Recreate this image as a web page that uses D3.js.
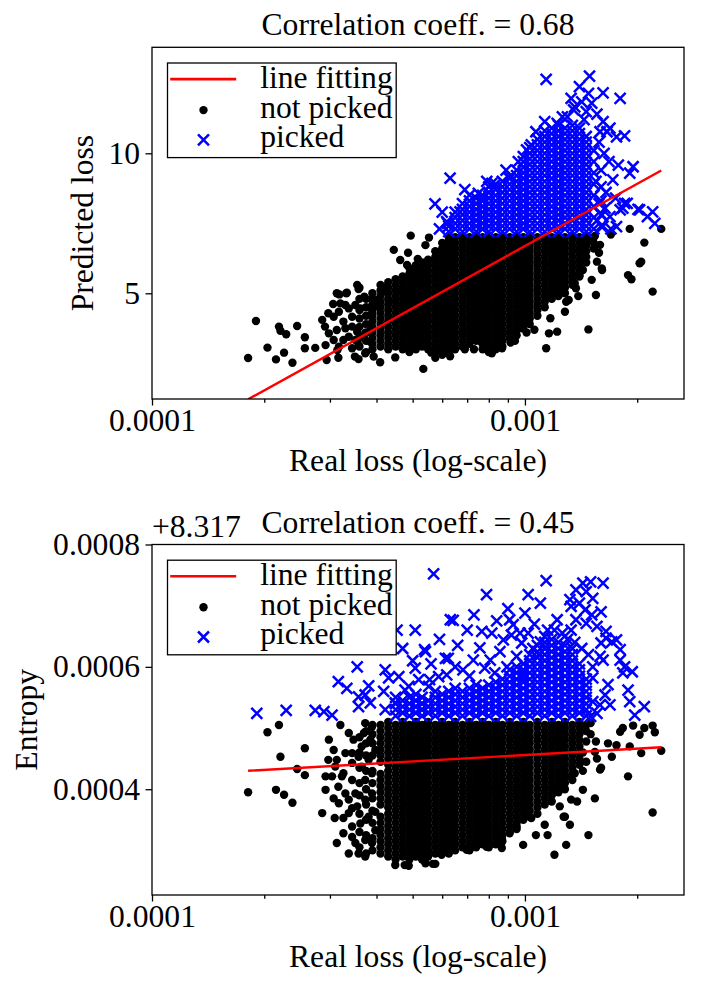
<!DOCTYPE html>
<html>
<head>
<meta charset="utf-8">
<script src="https://cdn.jsdelivr.net/npm/d3@7"></script>
<style>
  body { margin: 0; background: #fff; }
</style>
</head>
<body>
<svg id="chart" width="705" height="989"></svg>
<script>
// real loss is kept in units of 1e-4; entropy as offset from 8.317, in units of 1e-4
const lossTicks = [1, 10];
const lossTickLabels = ["0.0001", "0.001"];
const lossMinorTicks = [2, 3, 4, 5, 6, 7, 8, 9, 20];
const lossDomain = [1, 26.7];

const topYTicks = [5, 10];
const topYDomain = [1.225, 13.786];
const topTitle = "Correlation coeff. = 0.68";
const topYLabel = "Predicted loss";
const topFit = [-0.69, 7.38]; // intercept, slope per decade

const botYTicks = [4, 6, 8];
const botYTickLabels = ["0.0004", "0.0006", "0.0008"];
const botYDomain = [2.271, 8];
const botOffsetLabel = "+8.317";
const botTitle = "Correlation coeff. = 0.45";
const botYLabel = "Entropy";
const botFit = [4.212, 0.347];

const xLabel = "Real loss (log-scale)";
const legendLabels = ["line fitting", "not picked", "picked"];

// ---- top panel: dense columns [loss, [predicted...]] and scattered points
const topNotPickedCols = [
 [3.6,[3.1,3.4,3.8,4.1,4.4,4.8,5.2]],
 [3.75,[2.9,3.3,3.6,3.9,4.2,4.5,4.8]],
 [3.9,[3.0,3.2,3.4,3.6,3.8,4.0,4.2,4.4,4.6,4.8,5.0]],
 [4.1,[3.1,3.3,3.5,3.7,3.9,4.1,4.3,4.5,4.7,4.9,5.1,5.3]],
 [4.3,[3.0,3.2,3.4,3.6,3.8,4.0,4.2,4.4,4.6,4.8,5.0,5.2,5.4]],
 [4.5,[3.1,3.3,3.5,3.7,3.9,4.1,4.3,4.5,4.7,4.9,5.1,5.3,5.5]],
 [4.7,[3.0,3.2,3.4,3.6,3.8,4.0,4.2,4.4,4.6,4.8,5.0,5.2,5.4,5.6]],
 [4.9,[2.9,3.1,3.3,3.5,3.7,3.9,4.1,4.3,4.5,4.7,4.9,5.1,5.3,5.5,5.7,5.9]],
 [5.1,[3.0,3.2,3.4,3.6,3.8,4.0,4.2,4.4,4.6,4.8,5.0,5.2,5.4,5.6,5.8,6.0]],
 [5.3,[3.1,3.3,3.5,3.7,3.9,4.1,4.3,4.5,4.7,4.9,5.1,5.3,5.5,5.7,5.9,6.1]],
 [5.5,[3.0,3.2,3.4,3.6,3.8,4.0,4.2,4.4,4.6,4.8,5.0,5.2,5.4,5.6,5.8,6.0,6.2]],
 [5.75,[2.7,2.9,3.1,3.3,3.5,3.7,3.9,4.1,4.3,4.5,4.7,4.9,5.1,5.3,5.5,5.7,5.9,6.1,6.3,6.5]],
 [6.0,[2.8,3.0,3.2,3.4,3.6,3.8,4.0,4.2,4.4,4.6,4.8,5.0,5.2,5.4,5.6,5.8,6.0,6.2,6.4,6.6,6.8]],
 [6.25,[2.9,3.1,3.3,3.5,3.7,3.9,4.1,4.3,4.5,4.7,4.9,5.1,5.3,5.5,5.7,5.9,6.1,6.3,6.5,6.7,6.9,7.05]],
 [6.5,[3.0,3.2,3.4,3.6,3.8,4.0,4.2,4.4,4.6,4.8,5.0,5.2,5.4,5.6,5.8,6.0,6.2,6.4,6.6,6.8,7.0]],
 [6.8,[3.1,3.3,3.5,3.7,3.9,4.1,4.3,4.5,4.7,4.9,5.1,5.3,5.5,5.7,5.9,6.1,6.3,6.5,6.7,6.9,7.05]],
 [7.1,[3.2,3.4,3.6,3.8,4.0,4.2,4.4,4.6,4.8,5.0,5.2,5.4,5.6,5.8,6.0,6.2,6.4,6.6,6.8,7.0]],
 [7.4,[3.3,3.5,3.7,3.9,4.1,4.3,4.5,4.7,4.9,5.1,5.3,5.5,5.7,5.9,6.1,6.3,6.5,6.7,6.9,7.05]],
 [7.7,[3.0,3.2,3.4,3.6,3.8,4.0,4.2,4.4,4.6,4.8,5.0,5.2,5.4,5.6,5.8,6.0,6.2,6.4,6.6,6.8,7.0]],
 [8.0,[2.9,3.1,3.3,3.5,3.7,3.9,4.1,4.3,4.5,4.7,4.9,5.1,5.3,5.5,5.7,5.9,6.1,6.3,6.5,6.7,6.9,7.05]],
 [8.35,[3.0,3.2,3.4,3.6,3.8,4.0,4.2,4.4,4.6,4.8,5.0,5.2,5.4,5.6,5.8,6.0,6.2,6.4,6.6,6.8,7.0]],
 [8.7,[3.1,3.3,3.5,3.7,3.9,4.1,4.3,4.5,4.7,4.9,5.1,5.3,5.5,5.7,5.9,6.1,6.3,6.5,6.7,6.9,7.05]],
 [9.1,[3.4,3.6,3.8,4.0,4.2,4.4,4.6,4.8,5.0,5.2,5.4,5.6,5.8,6.0,6.2,6.4,6.6,6.8,7.0]],
 [9.5,[3.5,3.7,3.9,4.1,4.3,4.5,4.7,4.9,5.1,5.3,5.5,5.7,5.9,6.1,6.3,6.5,6.7,6.9,7.05]],
 [9.9,[3.8,4.0,4.2,4.4,4.6,4.8,5.0,5.2,5.4,5.6,5.8,6.0,6.2,6.4,6.6,6.8,7.0]],
 [10.3,[3.9,4.1,4.3,4.5,4.7,4.9,5.1,5.3,5.5,5.7,5.9,6.1,6.3,6.5,6.7,6.9,7.05]],
 [10.8,[4.2,4.4,4.6,4.8,5.0,5.2,5.4,5.6,5.8,6.0,6.2,6.4,6.6,6.8,7.0]],
 [11.3,[4.5,4.7,4.9,5.1,5.3,5.5,5.7,5.9,6.1,6.3,6.5,6.7,6.9,7.05]],
 [11.8,[4.8,5.0,5.2,5.4,5.6,5.8,6.0,6.2,6.4,6.6,6.8,7.0]],
 [12.3,[4.9,5.1,5.3,5.5,5.7,5.9,6.1,6.3,6.5,6.7,6.9,7.05]],
 [12.8,[5.0,5.2,5.4,5.6,5.8,6.0,6.2,6.4,6.6,6.8,7.0]],
 [13.4,[5.3,5.5,5.7,5.9,6.1,6.3,6.5,6.7,6.9,7.05]],
 [14.0,[5.6,5.8,6.0,6.2,6.4,6.6,6.8,7.0]],
 [14.6,[6.1,6.3,6.5,6.7,6.9,7.05]],
 [15.3,[6.6,6.8,7.0]]
];
const topNotPickedSparse = [
 [1.81,2.69],[1.90,4.01],[2.04,3.06],[2.15,2.64],[2.19,3.81],[2.21,3.66],[2.29,3.54],[2.26,2.88],[2.38,2.52],
 [2.45,3.83],[2.57,3.43],[2.57,3.04],[2.74,3.05],[2.86,4.05],[2.92,3.15],[2.94,2.62],[2.97,4.29],[3.06,4.62],
 [3.14,2.97],[3.16,2.70],[3.18,4.96],[3.32,5.0],[3.55,5.30],[3.58,5.15],[3.5,2.74],[3.58,2.65],[3.71,4.88],
 [4.09,2.54],[4.49,2.71],[5.34,2.30],[4.45,6.55],[4.86,6.45],[4.94,7.06],[5.53,6.99],[5.41,6.72],[4.63,6.19],
 [4.83,6.01],[5.16,6.23],[5.61,2.88],[3.13,5.0],[3.33,5.02],[3.20,4.64],[3.30,4.58],[3.07,4.16],[3.17,4.34],
 [3.37,4.46],[3.51,4.58],[3.62,4.46],[3.44,4.16],[3.26,3.99],[2.91,3.81],[2.98,3.57],[3.13,3.69],[3.30,3.75],
 [3.44,3.81],[3.55,3.63],[3.07,3.33],[3.26,3.33],[3.37,3.45],[3.51,3.33],[3.62,3.45],[3.73,3.57],[3.17,3.09],
 [3.44,3.04],[3.58,3.15],[3.85,3.27],[3.85,3.81],[3.89,4.29],[3.97,4.76],[4.05,4.52],[4.14,5.24],[4.22,5.06],
 [4.31,4.76],[3.93,2.74],[3.73,2.86],
 [16.07,5.89],[15.6,6.13],[15.9,6.73],[15.1,5.48],[15.5,4.94],[14.8,3.71],[14.4,6.61],[14.0,5.65],[14.3,5.83],
 [13.6,5.36],[12.8,4.34],[12.2,3.63],[11.6,3.57],[11.4,3.04],[11.7,4.11],[17.0,7.1],[19.1,7.3],[20.9,6.81],
 [20.3,6.07],[20.5,6.13],[18.9,5.65],[19.3,5.5],[22.0,5.06],[23.2,7.3],[13.7,5.18],[13.1,4.76],[9.8,3.75],
 [9.15,3.24],[8.68,3.04],[8.15,2.86],[7.66,3.24],[15.4,7.05],[16.1,5.83],[14.9,6.9],[15.8,6.45],[13.9,4.9],
 [12.9,4.7],[10.6,3.7],[10.1,3.6],[9.4,3.3],[7.3,3.0],[6.9,3.0],[6.3,2.75]
];
const topPickedCols = [
 [6.25,[7.2,7.4]],
 [6.5,[7.3,7.5,7.7,7.9]],
 [6.8,[7.2,7.4,7.6,7.8,8.0,8.2]],
 [7.1,[7.3,7.5,7.7,7.9,8.1,8.3]],
 [7.4,[7.2,7.4,7.6,7.8,8.0,8.2,8.4]],
 [7.7,[7.3,7.5,7.7,7.9,8.1,8.3,8.5]],
 [8.0,[7.2,7.4,7.6,7.8,8.0,8.2,8.4,8.6,8.8]],
 [8.35,[7.3,7.5,7.7,7.9,8.1,8.3,8.5,8.7,8.9]],
 [8.7,[7.2,7.4,7.6,7.8,8.0,8.2,8.4,8.6,8.8,9.0]],
 [9.1,[7.3,7.5,7.7,7.9,8.1,8.3,8.5,8.7,8.9,9.1]],
 [9.5,[7.2,7.4,7.6,7.8,8.0,8.2,8.4,8.6,8.8,9.0,9.2,9.4]],
 [9.9,[7.3,7.5,7.7,7.9,8.1,8.3,8.5,8.7,8.9,9.1,9.3,9.5,9.7]],
 [10.3,[7.2,7.4,7.6,7.8,8.0,8.2,8.4,8.6,8.8,9.0,9.2,9.4,9.6,9.8,10.0,10.2]],
 [10.8,[7.3,7.5,7.7,7.9,8.1,8.3,8.5,8.7,8.9,9.1,9.3,9.5,9.7,9.9,10.1,10.3,10.5]],
 [11.3,[7.2,7.4,7.6,7.8,8.0,8.2,8.4,8.6,8.8,9.0,9.2,9.4,9.6,9.8,10.0,10.2,10.4,10.6,10.8]],
 [11.8,[7.3,7.5,7.7,7.9,8.1,8.3,8.5,8.7,8.9,9.1,9.3,9.5,9.7,9.9,10.1,10.3,10.5,10.7,10.9]],
 [12.3,[7.2,7.4,7.6,7.8,8.0,8.2,8.4,8.6,8.8,9.0,9.2,9.4,9.6,9.8,10.0,10.2,10.4,10.6,10.8,11.0]],
 [12.8,[7.3,7.5,7.7,7.9,8.1,8.3,8.5,8.7,8.9,9.1,9.3,9.5,9.7,9.9,10.1,10.3,10.5,10.7,10.9]],
 [13.4,[7.2,7.4,7.6,7.8,8.0,8.2,8.4,8.6,8.8,9.0,9.2,9.4,9.6,9.8,10.0,10.2,10.4,10.6,10.8,11.0]],
 [14.0,[7.3,7.5,7.7,7.9,8.1,8.3,8.5,8.7,8.9,9.1,9.3,9.5,9.7,9.9,10.1,10.3,10.5,10.7,10.9]],
 [14.6,[7.2,7.4,7.6,7.8,8.0,8.2,8.4,8.6,8.8,9.0,9.2,9.4,9.6,9.8,10.0,10.2,10.4,10.6]],
 [15.3,[7.3,7.7,8.1,8.5,8.9,9.3,9.7,10.1]],
 [16.0,[7.4,7.8,8.3,8.8,9.4]]
];
const topPickedSparse = [
 [11.4,12.64],[14.9,12.76],[16.2,12.16],[18.0,11.96],[13.3,11.96],[14.0,12.38],[14.8,12.14],[13.6,11.66],
 [14.2,11.84],[15.1,11.79],[14.6,11.49],[13.5,11.55],[16.2,11.13],[18.5,10.62],[17.6,10.59],[15.9,10.77],
 [16.6,10.77],[11.3,11.13],[12.2,11.07],[10.7,10.77],[10.1,10.12],[9.9,9.88],[10.4,10.3],[6.3,9.11],
 [5.74,8.19],[6.2,7.5],[6.7,7.91],[7.1,8.51],[7.5,8.57],[8.15,8.93],[9.1,9.16],[19.5,9.52],[19.1,9.29],
 [17.8,9.58],[17.2,9.05],[18.5,8.21],[18.0,7.98],[20.1,8.0],[22.0,7.91],[22.3,7.5],[21.3,7.74],[16.1,7.8],
 [17.6,7.38],[6.17,7.56],[20.3,7.98],[18.8,8.21],[16.9,7.74],[16.4,8.04],[18.3,8.04],[13.0,11.3],[15.6,11.4],
 [16.9,10.9],[14.4,11.2],[12.6,11.3],[15.5,9.0],[16.5,8.6],[16.8,9.7],[17.5,8.4],[15.8,10.4],[16.3,10.0],
 [17.0,7.3],[16.2,7.4],[15.6,7.6],[15.8,8.2],[8.9,9.4],[9.6,9.7],[7.9,9.0],[6.9,8.7],[6.0,7.9],[5.9,7.3]
];

// ---- bottom panel: dense columns [loss, [entropy offset...]] and scattered points
const botNotPickedCols = [
 [3.6,[3.05,3.3,3.6,3.9,4.1,4.35,4.6,4.85]],
 [3.75,[2.95,3.25,3.5,3.75,4.0,4.3,4.55,4.75,4.95]],
 [3.9,[3.0,3.2,3.45,3.65,3.85,4.1,4.3,4.55,4.75,4.9,5.05]],
 [4.1,[2.95,3.05,3.15,3.25,3.35,3.45,3.55,3.75,3.85,3.95,4.05,4.15,4.25,4.45,4.55,4.65,4.75,4.85,4.95,5.05]],
 [4.3,[2.9,3.0,3.1,3.2,3.3,3.4,3.5,3.6,3.7,3.8,3.9,4.0,4.1,4.2,4.3,4.4,4.5,4.6,4.7,4.8,4.9,5.0,5.1]],
 [4.5,[2.85,2.95,3.05,3.15,3.25,3.35,3.45,3.55,3.65,3.75,3.85,3.95,4.05,4.15,4.25,4.35,4.45,4.55,4.65,4.75,4.85,4.95,5.05]],
 [4.7,[2.9,3.0,3.1,3.2,3.3,3.4,3.5,3.6,3.7,3.8,3.9,4.0,4.1,4.2,4.3,4.4,4.5,4.6,4.7,4.8,4.9,5.0,5.1]],
 [4.9,[2.85,2.95,3.05,3.15,3.25,3.35,3.45,3.55,3.65,3.75,3.85,3.95,4.05,4.15,4.25,4.35,4.45,4.55,4.65,4.75,4.85,4.95,5.05]],
 [5.1,[2.9,3.0,3.1,3.2,3.3,3.4,3.5,3.6,3.7,3.8,3.9,4.0,4.1,4.2,4.3,4.4,4.5,4.6,4.7,4.8,4.9,5.0,5.1]],
 [5.3,[2.85,2.95,3.05,3.15,3.25,3.35,3.45,3.55,3.65,3.75,3.85,3.95,4.05,4.15,4.25,4.35,4.45,4.55,4.65,4.75,4.85,4.95,5.05]],
 [5.5,[2.9,3.0,3.1,3.2,3.3,3.4,3.5,3.6,3.7,3.8,3.9,4.0,4.1,4.2,4.3,4.4,4.5,4.6,4.7,4.8,4.9,5.0,5.1]],
 [5.75,[2.95,3.05,3.15,3.25,3.35,3.45,3.55,3.65,3.75,3.85,3.95,4.05,4.15,4.25,4.35,4.45,4.55,4.65,4.75,4.85,4.95,5.05]],
 [6.0,[3.0,3.1,3.2,3.3,3.4,3.5,3.6,3.7,3.8,3.9,4.0,4.1,4.2,4.3,4.4,4.5,4.6,4.7,4.8,4.9,5.0,5.1]],
 [6.25,[2.95,3.05,3.15,3.25,3.35,3.45,3.55,3.65,3.75,3.85,3.95,4.05,4.15,4.25,4.35,4.45,4.55,4.65,4.75,4.85,4.95,5.05]],
 [6.5,[3.0,3.1,3.2,3.3,3.4,3.5,3.6,3.7,3.8,3.9,4.0,4.1,4.2,4.3,4.4,4.5,4.6,4.7,4.8,4.9,5.0,5.1]],
 [6.8,[3.05,3.15,3.25,3.35,3.45,3.55,3.65,3.75,3.85,3.95,4.05,4.15,4.25,4.35,4.45,4.55,4.65,4.75,4.85,4.95,5.05]],
 [7.1,[3.0,3.1,3.2,3.3,3.4,3.5,3.6,3.7,3.8,3.9,4.0,4.1,4.2,4.3,4.4,4.5,4.6,4.7,4.8,4.9,5.0,5.1]],
 [7.4,[3.05,3.15,3.25,3.35,3.45,3.55,3.65,3.75,3.85,3.95,4.05,4.15,4.25,4.35,4.45,4.55,4.65,4.75,4.85,4.95,5.05]],
 [7.7,[3.1,3.2,3.3,3.4,3.5,3.6,3.7,3.8,3.9,4.0,4.1,4.2,4.3,4.4,4.5,4.6,4.7,4.8,4.9,5.0,5.1]],
 [8.0,[3.05,3.15,3.25,3.35,3.45,3.55,3.65,3.75,3.85,3.95,4.05,4.15,4.25,4.35,4.45,4.55,4.65,4.75,4.85,4.95,5.05]],
 [8.35,[3.1,3.2,3.3,3.4,3.5,3.6,3.7,3.8,3.9,4.0,4.1,4.2,4.3,4.4,4.5,4.6,4.7,4.8,4.9,5.0,5.1]],
 [8.7,[3.15,3.25,3.35,3.45,3.55,3.65,3.75,3.85,3.95,4.05,4.15,4.25,4.35,4.45,4.55,4.65,4.75,4.85,4.95,5.05]],
 [9.1,[3.3,3.4,3.5,3.6,3.7,3.8,3.9,4.0,4.1,4.2,4.3,4.4,4.5,4.6,4.7,4.8,4.9,5.0,5.1]],
 [9.5,[3.35,3.45,3.55,3.65,3.75,3.85,3.95,4.05,4.15,4.25,4.35,4.45,4.55,4.65,4.75,4.85,4.95,5.05]],
 [9.9,[3.5,3.6,3.7,3.8,3.9,4.0,4.1,4.2,4.3,4.4,4.5,4.6,4.7,4.8,4.9,5.0,5.1]],
 [10.3,[3.55,3.65,3.75,3.85,3.95,4.05,4.15,4.25,4.35,4.45,4.55,4.65,4.75,4.85,4.95,5.05]],
 [10.8,[3.6,3.7,3.8,3.9,4.0,4.1,4.2,4.3,4.4,4.5,4.6,4.7,4.8,4.9,5.0,5.1]],
 [11.3,[3.75,3.85,3.95,4.05,4.15,4.25,4.35,4.45,4.55,4.65,4.75,4.85,4.95,5.05]],
 [11.8,[3.8,3.9,4.0,4.1,4.2,4.3,4.4,4.5,4.6,4.7,4.8,4.9,5.0,5.1]],
 [12.3,[3.95,4.05,4.15,4.25,4.35,4.45,4.55,4.65,4.75,4.85,4.95,5.05]],
 [12.8,[4.0,4.1,4.2,4.3,4.4,4.5,4.6,4.7,4.8,4.9,5.0,5.1]],
 [13.4,[4.15,4.25,4.35,4.45,4.55,4.65,4.75,4.85,4.95,5.05]],
 [14.0,[4.4,4.5,4.6,4.7,4.8,4.9,5.0,5.1]]
];
const botNotPickedSparse = [
 [1.81,3.95],[2.04,4.93],[2.19,5.05],[2.21,4.53],[2.15,3.99],[2.26,3.91],[2.38,3.78],[2.45,4.33],[2.57,4.67],
 [2.57,4.23],[2.86,3.61],[2.92,4.21],[3.09,3.53],[3.20,5.05],[3.26,3.53],[3.37,2.95],[3.13,3.12],[3.26,3.28],
 [3.44,3.69],[3.73,2.90],[4.49,2.76],[4.76,2.76],[3.37,4.92],[3.47,4.81],[3.70,4.92],[3.73,5.08],[2.97,4.48],
 [2.92,3.99],[3.07,3.85],[3.16,4.04],[3.26,4.26],[3.51,3.93],[3.37,3.61],[3.97,3.63],[3.73,3.17],[4.88,2.75],
 [5.41,2.79],[5.75,2.78],[2.98,4.81],[3.07,4.64],[3.13,4.48],[3.30,4.59],[3.44,4.43],[3.58,4.53],[3.65,4.37],
 [3.81,4.48],[3.89,4.26],[3.73,4.15],[3.44,4.15],[3.30,3.93],[3.17,3.77],[3.37,3.83],[3.55,3.72],[3.73,3.83],
 [3.89,3.93],[3.62,3.44],[3.44,3.39],[3.81,3.55],[3.97,3.33],[3.89,3.12],[3.51,3.12],[3.58,2.95],[3.44,3.22],
 [3.10,4.37],[3.23,4.21],[3.04,4.21],[3.85,4.81],[3.97,4.64],[3.89,5.02],[3.65,4.70],[3.44,4.59],
 [14.3,3.99],[15.4,3.85],[15.9,4.32],[14.8,3.25],[18.9,4.21],[22.0,3.62],[23.2,4.63],[20.5,4.59],[17.1,4.53],
 [16.7,4.75],[17.6,4.72],[19.1,4.70],[18.0,4.94],[18.3,5.0],[19.5,5.04],[20.3,4.89],[20.9,5.0],[22.0,5.04],
 [22.3,4.93],[15.4,4.61],[15.5,4.78],[14.6,4.78],[15.0,5.08],[13.3,4.21],[13.8,3.80],[12.8,3.55],[13.2,3.42],
 [5.66,2.78],[5.98,2.93],[6.98,3.01],[7.89,3.06],[8.67,3.04],[9.89,3.09],[11.5,3.25],[12.0,2.93],[12.9,3.09],
 [10.7,3.25],[11.3,3.42],[12.7,3.55],[10.4,3.53],[9.5,3.39],[9.1,3.28],[8.67,3.2],[5.5,2.98],[12.4,3.72],
 [13.3,3.83],[13.6,4.26],[14.6,5.05],[14.6,4.95],[15.0,4.9],[14.3,4.6],[14.6,4.45],[14.3,4.3],[16.0,4.35],[15.6,4.5]
];
const botPickedCols = [
 [4.5,[5.2,5.3,5.4,5.5]],
 [4.7,[5.25,5.35,5.45]],
 [4.9,[5.2,5.3,5.4,5.5]],
 [5.1,[5.25,5.35,5.45,5.55]],
 [5.3,[5.2,5.3,5.4,5.5]],
 [5.5,[5.25,5.35,5.45]],
 [5.75,[5.2,5.3,5.4,5.5,5.6]],
 [6.0,[5.25,5.35,5.45,5.55]],
 [6.25,[5.2,5.3,5.4,5.5,5.6]],
 [6.5,[5.25,5.35,5.45,5.55,5.65]],
 [6.8,[5.2,5.3,5.4,5.5,5.6]],
 [7.1,[5.25,5.35,5.45,5.55,5.65]],
 [7.4,[5.2,5.3,5.4,5.5,5.6,5.7]],
 [7.7,[5.25,5.35,5.45,5.55,5.65]],
 [8.0,[5.2,5.3,5.4,5.5,5.6,5.7]],
 [8.35,[5.25,5.35,5.45,5.55,5.65,5.75]],
 [8.7,[5.2,5.3,5.4,5.5,5.6,5.7,5.8]],
 [9.1,[5.25,5.35,5.45,5.55,5.65,5.75,5.85,5.95]],
 [9.5,[5.2,5.3,5.4,5.5,5.6,5.7,5.8,5.9,6.0]],
 [9.9,[5.25,5.35,5.45,5.55,5.65,5.75,5.85,5.95,6.05]],
 [10.3,[5.2,5.3,5.4,5.5,5.6,5.7,5.8,5.9,6.0,6.1,6.2]],
 [10.8,[5.25,5.35,5.45,5.55,5.65,5.75,5.85,5.95,6.05,6.15,6.25,6.35]],
 [11.3,[5.2,5.3,5.4,5.5,5.6,5.7,5.8,5.9,6.0,6.1,6.2,6.3,6.4,6.5]],
 [11.8,[5.25,5.35,5.45,5.55,5.65,5.75,5.85,5.95,6.05,6.15,6.25,6.35,6.45]],
 [12.3,[5.2,5.3,5.4,5.5,5.6,5.7,5.8,5.9,6.0,6.1,6.2,6.3,6.4]],
 [12.8,[5.25,5.35,5.45,5.55,5.65,5.75,5.85,5.95,6.05,6.15,6.25,6.35]],
 [13.4,[5.2,5.3,5.4,5.5,5.6,5.7,5.8,5.9,6.0,6.1,6.2,6.3]],
 [14.0,[5.25,5.35,5.45,5.55,5.65,5.75,5.85,5.95,6.05]],
 [14.6,[5.2,5.3,5.4,5.5,5.6,5.7,5.8]]
];
const botPickedSparse = [
 [1.91,5.24],[2.29,5.29],[2.74,5.29],[2.89,5.27],[3.04,5.21],[3.16,5.76],[3.33,5.65],[3.55,6.0],[3.58,5.51],
 [3.81,5.69],[4.22,5.95],[4.31,5.82],[4.18,5.60],[4.54,6.6],[5.08,6.6],[5.41,6.25],[5.08,5.98],[5.69,7.52],
 [6.12,6.14],[6.31,6.77],[4.77,5.62],[3.73,5.54],[4.49,5.41],[7.89,7.18],[6.42,6.76],[10.2,7.18],[11.4,7.41],
 [11.0,7.04],[10.0,6.88],[9.1,6.77],[7.66,6.58],[8.15,6.55],[9.2,6.52],[10.2,6.55],[5.38,6.28],[6.23,6.14],
 [7.27,6.11],[7.57,6.31],[8.57,6.25],[16.2,7.37],[15.0,7.39],[14.3,7.37],[13.7,7.26],[13.3,6.99],[16.0,6.90],
 [15.2,7.12],[16.5,6.58],[17.6,6.44],[18.0,6.28],[16.2,6.11],[18.5,6.0],[19.4,5.92],[18.9,5.62],[16.7,5.71],
 [15.2,5.82],[16.9,5.38],[15.9,5.38],[19.1,5.43],[19.7,5.21],[20.9,5.35],[15.2,5.43],[15.0,5.19],[12.2,6.77],
 [11.5,6.6],[11.0,6.41],[9.3,6.69],[13.2,7.1],[14.0,7.04],[14.6,7.23],[14.5,6.93],[15.1,6.85],[14.6,6.71],
 [15.6,6.66],[16.5,6.47],[17.1,6.41],[16.0,6.39],[15.9,6.17],[15.2,6.0],[18.0,6.11],[18.3,5.9],[16.4,5.54],
 [15.6,5.24],[13.7,6.77],[13.3,6.6],[8.07,6.11],[8.95,6.0],[9.5,6.17],[9.8,6.39],[8.75,6.44],[7.8,5.98],
 [6.82,5.95],[6.17,5.87],[5.55,5.79],[4.59,5.84],[4.88,5.68],[5.19,5.79],[5.52,5.68],[5.87,5.84],[4.22,5.30],
 [3.58,5.35],[3.85,5.41],
 [5.9,6.45],[6.6,6.35],[7.0,6.6],[7.3,6.85],[8.4,6.75],[9.0,6.95],[9.7,6.55],[10.6,6.7],[10.9,6.2],[6.5,6.0],
 [5.0,6.1],[4.7,6.3],[5.6,6.05],[7.1,5.85],[8.3,5.9],[9.7,5.85],[10.5,6.3],[12.0,6.6],[12.6,6.55],[13.0,6.45],
 [13.6,6.4],[14.2,6.3],[14.8,6.2]
];

const svg = d3.select("#chart");
const FONT = 31.6;
const FAMILY = "'Liberation Serif', Tinos, 'Times New Roman', Times, 'DejaVu Serif', serif";
const crossPath = "M-5.5,-5.5L5.5,5.5M-5.5,5.5L5.5,-5.5";

function unpack(cols) {
  return cols.flatMap(c => c[1].map(v => [c[0], v]));
}

function label(sel) {
  return sel.attr("font-size", FONT).attr("font-family", FAMILY)
    .style("font-family", FAMILY).attr("fill", "#000");
}

function panel(o) {
  const x = d3.scaleLog().domain(lossDomain).range([o.left, o.right]);
  const y = d3.scaleLinear().domain(o.yDomain).range([o.bottom, o.top]);
  const g = svg.append("g");

  g.append("clipPath").attr("id", "clip-" + o.id)
    .append("rect").attr("x", o.left).attr("y", o.top)
    .attr("width", o.right - o.left).attr("height", o.bottom - o.top);
  const plot = g.append("g").attr("clip-path", "url(#clip-" + o.id + ")");

  plot.append("g").selectAll("circle").data(o.notPicked).join("circle")
    .attr("cx", d => x(d[0])).attr("cy", d => y(d[1]))
    .attr("r", 4.2).attr("fill", "#000");

  plot.append("g").selectAll("path").data(o.picked).join("path")
    .attr("d", crossPath)
    .attr("transform", d => "translate(" + x(d[0]) + "," + y(d[1]) + ")")
    .attr("fill", "none").attr("stroke", "#0000ff").attr("stroke-width", 2.5);

  // fitted line spans the data's loss range
  const ext = d3.extent(o.notPicked.concat(o.picked), d => d[0]);
  plot.append("path")
    .datum(ext.map(u => [u, o.fit[0] + o.fit[1] * Math.log10(u)]))
    .attr("d", d3.line().x(d => x(d[0])).y(d => y(d[1])))
    .attr("fill", "none").attr("stroke", "#ff0000").attr("stroke-width", 2.4);

  // axes
  g.append("g").attr("transform", "translate(0," + o.bottom + ")")
    .call(d3.axisBottom(x).tickValues(lossTicks)
      .tickFormat((d, i) => lossTickLabels[i]).tickSize(6.5).tickPadding(3.5));
  g.append("g").attr("transform", "translate(0," + o.bottom + ")")
    .call(d3.axisBottom(x).tickValues(lossMinorTicks).tickFormat("").tickSize(3.7));
  g.append("g").attr("transform", "translate(" + o.left + ",0)")
    .call(d3.axisLeft(y).tickValues(o.yTicks).tickFormat(o.yFormat)
      .tickSize(6.5).tickPadding(5.5));
  g.selectAll(".domain").remove();
  g.selectAll(".tick line").attr("stroke", "#000").attr("stroke-width", 1.3);
  label(g.selectAll(".tick text"));

  g.append("rect")
    .attr("x", o.left).attr("y", o.top)
    .attr("width", o.right - o.left).attr("height", o.bottom - o.top)
    .attr("fill", "none").attr("stroke", "#000").attr("stroke-width", 1.3);

  label(g.append("text").attr("x", (o.left + o.right) / 2).attr("y", o.top - 12)
    .attr("text-anchor", "middle").text(o.title));
  label(g.append("text").attr("x", (o.left + o.right) / 2).attr("y", o.bottom + 72)
    .attr("text-anchor", "middle").text(xLabel));
  label(g.append("text")
    .attr("transform", "translate(" + o.yLabelX + "," + (o.top + o.bottom) / 2 + ") rotate(-90)")
    .attr("text-anchor", "middle").text(o.yLabel));
  if (o.offset) {
    label(g.append("text").attr("x", o.left).attr("y", o.top - 7.5).text(o.offset));
  }

  // legend
  const lg = g.append("g").attr("transform", "translate(" + (o.left + 15.5) + "," + (o.top + 15.7) + ")");
  lg.append("rect").attr("width", 228.7).attr("height", 94.6)
    .attr("fill", "#fff").attr("stroke", "#000").attr("stroke-width", 1.3);
  const rows = [24.6, 54.6, 84.3];
  lg.append("line").attr("x1", 2.7).attr("x2", 68.7)
    .attr("y1", rows[0] - 8.5).attr("y2", rows[0] - 8.5)
    .attr("stroke", "#ff0000").attr("stroke-width", 2.6);
  lg.append("circle").attr("cx", 36).attr("cy", rows[1] - 7.5).attr("r", 4.2).attr("fill", "#000");
  lg.append("path").attr("d", crossPath)
    .attr("transform", "translate(36," + (rows[2] - 7.5) + ")")
    .attr("fill", "none").attr("stroke", "#0000ff").attr("stroke-width", 2.5);
  label(lg.selectAll("text.lab").data(legendLabels).join("text").attr("class", "lab")
    .attr("x", 92.7).attr("y", (d, i) => rows[i]).text(d => d));
}

panel({
  id: "top", left: 152, right: 684, top: 47.3, bottom: 399,
  yDomain: topYDomain, yTicks: topYTicks, yFormat: d => String(d),
  notPicked: unpack(topNotPickedCols).concat(topNotPickedSparse),
  picked: unpack(topPickedCols).concat(topPickedSparse),
  fit: topFit, title: topTitle, yLabel: topYLabel, yLabelX: 93.3
});

panel({
  id: "bot", left: 152, right: 684, top: 544.5, bottom: 895,
  yDomain: botYDomain, yTicks: botYTicks,
  yFormat: (d, i) => botYTickLabels[i],
  notPicked: unpack(botNotPickedCols).concat(botNotPickedSparse),
  picked: unpack(botPickedCols).concat(botPickedSparse),
  fit: botFit, title: botTitle, yLabel: botYLabel, yLabelX: 36.6,
  offset: botOffsetLabel
});
</script>
</body>
</html>
